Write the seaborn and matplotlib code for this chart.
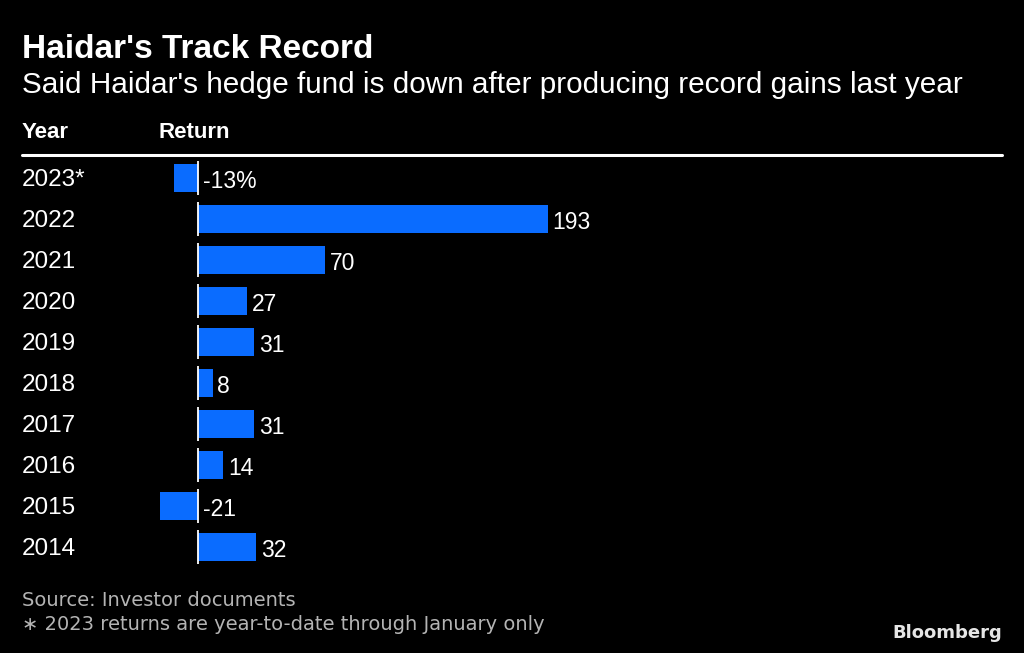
import matplotlib
matplotlib.use("Agg")
import matplotlib.pyplot as plt
import seaborn as sns
import pandas as pd

years = ["2023*", "2022", "2021", "2020", "2019", "2018", "2017", "2016", "2015", "2014"]
returns = [-13, 193, 70, 27, 31, 8, 31, 14, -21, 32]
labels = ["-13%", "193", "70", "27", "31", "8", "31", "14", "-21", "32"]

BG = "#000000"
BAR = "#0a6cff"
FOOT = "#b4b4b4"

sns.set_theme(style="white")
plt.rcParams["font.family"] = ["Liberation Sans", "DejaVu Sans"]

df = pd.DataFrame({"year": years, "ret": returns})

fig = plt.figure(figsize=(10.24, 6.53), dpi=100, facecolor=BG)
ax = fig.add_axes([22 / 1024, 1 - 568 / 653, 980 / 1024, 411 / 653])
ax.set_facecolor(BG)

sns.barplot(data=df, x="ret", y="year", orient="h", color=BAR, width=0.67,
            saturation=1, linewidth=0, ax=ax)

ax.set_xlim(-97.1, 443.4)
ax.set_ylim(9.51, -0.51)
ax.set_xticks([])
ax.set_yticks([])
ax.set_xlabel("")
ax.set_ylabel("")
for s in ax.spines.values():
    s.set_visible(False)

# zero line, one segment per row
for i in range(len(years)):
    ax.vlines(0, i - 0.41, i + 0.41, color="white", lw=1.3, zorder=5)

for i, (yr, v, lab) in enumerate(zip(years, returns, labels)):
    ax.text(0, i + 0.04, yr, transform=ax.get_yaxis_transform(), ha="left", va="center",
            color="white", fontsize=17.5)
    xpos = max(v, 0) + 2.5
    ax.text(xpos, i + 0.08, lab, ha="left", va="center", color="white", fontsize=16.5)

fig.text(22 / 1024, 1 - 50 / 653, "Haidar's Track Record", color="white",
         fontsize=24, fontweight="bold", ha="left", va="center")
fig.text(22 / 1024, 1 - 85 / 653, "Said Haidar's hedge fund is down after producing record gains last year",
         color="white", fontsize=21.4, ha="left", va="center")
fig.text(22 / 1024, 1 - 132 / 653, "Year", color="white", fontsize=16,
         fontweight="bold", ha="left", va="center")
fig.text(158 / 1024, 1 - 132 / 653, "Return", color="white", fontsize=16,
         fontweight="bold", ha="left", va="center")
fig.add_artist(plt.Line2D([22 / 1024, 1002 / 1024], [1 - 155 / 653, 1 - 155 / 653],
                          color="white", lw=2.2, transform=fig.transFigure))

foot_font = ["DejaVu Sans"]
fig.text(22 / 1024, 1 - 600 / 653, "Source: Investor documents", color=FOOT,
         fontsize=14, family=foot_font, ha="left", va="center")
fig.text(22 / 1024, 1 - 624 / 653, "\u2217 2023 returns are year-to-date through January only",
         color=FOOT, fontsize=14, family=foot_font, ha="left", va="center")
fig.text(1002 / 1024, 1 - 633 / 653, "Bloomberg", color="#e6e6e6", fontsize=13,
         fontweight="bold", family=foot_font, ha="right", va="center")

fig.savefig("out.png", dpi=100, facecolor=BG)
